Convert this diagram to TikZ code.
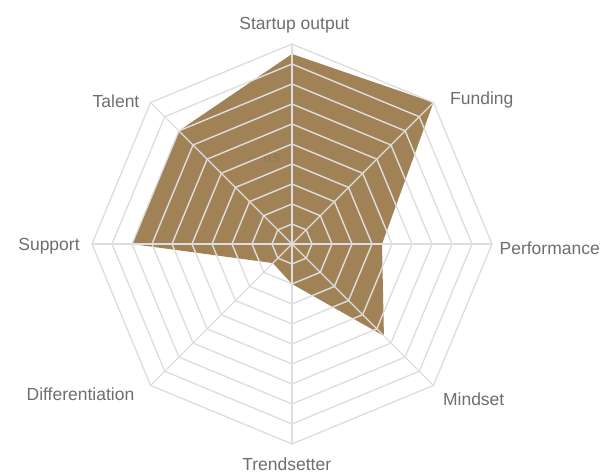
\documentclass[tikz,border=0pt]{standalone}
\usepackage{fontspec}
\setmainfont{Liberation Sans}
\definecolor{fillc}{HTML}{A08256}
\definecolor{gridc}{HTML}{DEDEDE}
\definecolor{labc}{HTML}{6E6E6E}
\definecolor{tickc}{HTML}{88785F}
\begin{document}
\begin{tikzpicture}[x=1pt,y=1pt,
  lab/.style={text=labc,font=\fontsize{17.5}{20}\selectfont,inner sep=0pt},
  gridline/.style={draw=gridc,line width=1.4pt,line join=round},
  datafill/.style={fill=fillc}]
\useasboundingbox (0,0) rectangle (601,473);
\begin{scope}[shift={(292,229)}]
  \coordinate (O) at (0,0);
  \coordinate (d1) at (90:190);
  \coordinate (d2) at (45:200);
  \coordinate (d3) at (0:90);
  \coordinate (d4) at (-45:130);
  \coordinate (d5) at (-90:40);
  \coordinate (d6) at (-135:27);
  \coordinate (d7) at (180:160);
  \coordinate (d8) at (135:160);
  \fill[datafill] (d1) -- (d2) -- (d3) -- (d4) -- (d5) -- (d6) -- (d7) -- (d8) -- cycle;
  \node[text=tickc,font=\fontsize{11.5}{12}\selectfont,inner sep=0pt] (tick) at (-20,85.5) {0.5};
  \foreach \r in {20,40,...,200}
    \draw[gridline] (0:\r) \foreach \a in {45,90,...,315}{ -- (\a:\r)} -- cycle;
  \foreach \a [count=\i] in {90,45,0,-45,-90,-135,180,135}
    \coordinate (v\i) at (\a:200);
  \foreach \i in {1,...,8}
    \draw[gridline] (O) -- (v\i);
\end{scope}
\node[lab] (l1) at (294.4,448) {Startup output};
\node[lab] (l2) at (481.8,373) {Funding};
\node[lab,anchor=east] (l3) at (600,225) {Performance};
\node[lab] (l4) at (473.7,73.5) {Mindset};
\node[lab] (l5) at (286.7,9) {Trendsetter};
\node[lab] (l6) at (80.5,78.5) {Differentiation};
\node[lab] (l7) at (49,227) {Support};
\node[lab] (l8) at (116,372) {Talent};
\end{tikzpicture}
\end{document}
